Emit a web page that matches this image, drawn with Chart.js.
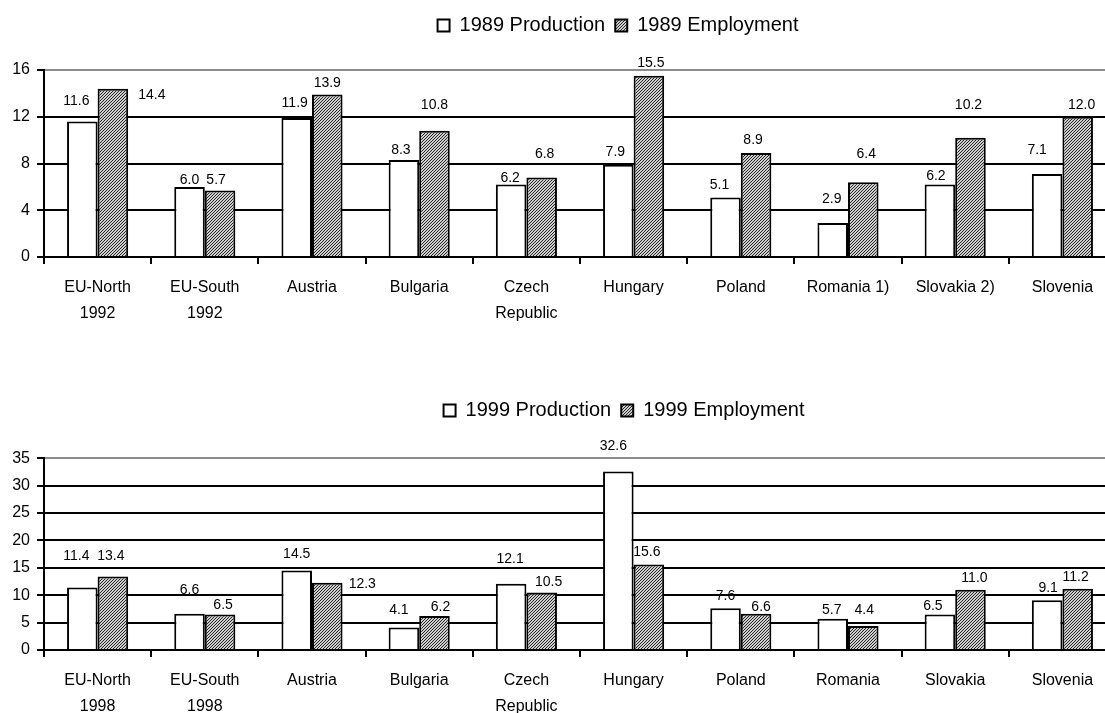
<!DOCTYPE html>
<html>
<head>
<meta charset="utf-8">
<script src="https://cdn.jsdelivr.net/npm/chart.js@4.4.1/dist/chart.umd.min.js"></script>
<style>
  html, body { margin: 0; padding: 0; background: #fff; width: 1105px; height: 713px; overflow: hidden; }
  .panel { position: absolute; left: 0; }
  #panel1989 { top: 0; }
  #panel1999 { top: 360px; }
  canvas { display: block; }
</style>
</head>
<body>
<div class="panel" id="panel1989"><canvas id="chart1989" width="1116" height="337"></canvas></div>
<div class="panel" id="panel1999"><canvas id="chart1999" width="1116" height="370"></canvas></div>
<script>
// ---- data: 1989 ----
const categories1989 = [['EU-North', '1992'], ['EU-South', '1992'], 'Austria', 'Bulgaria', ['Czech', 'Republic'],
  'Hungary', 'Poland', 'Romania 1)', 'Slovakia 2)', 'Slovenia'];
const production1989 = [11.6, 6.0, 11.9, 8.3, 6.2, 7.9, 5.1, 2.9, 6.2, 7.1];
const employment1989 = [14.4, 5.7, 13.9, 10.8, 6.8, 15.5, 8.9, 6.4, 10.2, 12.0];
const yTicks1989 = [0, 4, 8, 12, 16];
const series1989 = ['1989 Production', '1989 Employment'];

// ---- data: 1999 ----
const categories1999 = [['EU-North', '1998'], ['EU-South', '1998'], 'Austria', 'Bulgaria', ['Czech', 'Republic'],
  'Hungary', 'Poland', 'Romania', 'Slovakia', 'Slovenia'];
const production1999 = [11.4, 6.6, 14.5, 4.1, 12.1, 32.6, 7.6, 5.7, 6.5, 9.1];
const employment1999 = [13.4, 6.5, 12.3, 6.2, 10.5, 15.6, 6.6, 4.4, 11.0, 11.2];
const yTicks1999 = [0, 5, 10, 15, 20, 25, 30, 35];
const series1999 = ['1999 Production', '1999 Employment'];

// value-label placement: [dx, px above the bar top]
const prodLabelPos1989 = [[-6, 20], [0, 7], [-2, 15], [-3, 10], [-1, 6], [-3, 13], [-6, 12], [-1, 24], [-4, 8], [-10, 24]];
const empLabelPos1989  = [[39, -6], [-4, 10], [0, 11], [0, 26], [3, 23], [2, 13], [-3, 13], [3, 28], [-2, 33], [4, 12]];
const prodLabelPos1999 = [[-6, 31], [0, 24], [0, 16], [-5, 17], [-1, 25], [-5, 25], [0, 12], [-1, 9], [-7, 8], [1, 12]];
const empLabelPos1999  = [[-2, 20], [3, 9], [35, -2], [6, 9], [7, 10], [-2, 12], [5, 7], [1, 16], [4, 12], [-2, 12]];

// pick the condensed face when the system has it
const hasNarrow = (() => {
  const g = document.createElement('canvas').getContext('2d');
  g.font = '20px monospace';
  const a = g.measureText('EU-North 1992').width;
  g.font = '20px "Liberation Sans Narrow", monospace';
  return g.measureText('EU-North 1992').width !== a;
})();
const axisFamily = hasNarrow ? '"Liberation Sans Narrow", "Liberation Sans", Arial, sans-serif' : '"Liberation Sans", Arial, sans-serif';
const axisSize = hasNarrow ? 20 : 16;
const categoryFont = { family: axisFamily, size: axisSize, lineHeight: 26 / axisSize };
const valueAxisFont = { family: axisFamily, size: axisSize, lineHeight: 1.2 };
const valueFont = hasNarrow ? '17px "Liberation Sans Narrow", "Liberation Sans", sans-serif' : '14px "Liberation Sans", sans-serif';

// fine diagonal hatch fill for the employment bars
function hatchPattern() {
  const c = document.createElement('canvas');
  c.width = 3; c.height = 3;
  const g = c.getContext('2d');
  const img = g.createImageData(3, 3);
  for (let y = 0; y < 3; y++) {
    for (let x = 0; x < 3; x++) {
      const v = (x + y) % 3 === 2 ? 40 : 205;
      const k = (y * 3 + x) * 4;
      img.data[k] = img.data[k + 1] = img.data[k + 2] = v;
      img.data[k + 3] = 255;
    }
  }
  g.putImageData(img, 0, 0);
  return g.createPattern(c, 'repeat');
}
const hatch = hatchPattern();

// legend height / horizontal placement
const legendPlace = {
  id: 'legendPlace',
  afterInit(chart, _a, o) {
    const lg = chart.legend;
    const fit = lg.fit;
    lg.fit = function () { fit.call(this); this.height = o.height; };
  },
  afterLayout(chart, _a, o) {
    const lg = chart.legend;
    lg.left += o.shift;
    lg.right += o.shift;
  }
};

// value labels above the bars
const valueLabels = {
  id: 'valueLabels',
  afterDatasetsDraw(chart, _a, o) {
    const ctx = chart.ctx;
    ctx.save();
    ctx.font = valueFont;
    ctx.fillStyle = '#000';
    ctx.textAlign = 'center';
    ctx.textBaseline = 'middle';
    chart.data.datasets.forEach((ds, i) => {
      const pos = o.positions[i];
      chart.getDatasetMeta(i).data.forEach((bar, j) => {
        const [dx, up] = pos[j];
        ctx.fillText(ds.data[j].toFixed(1), bar.x + dx, bar.y - up);
      });
    });
    ctx.restore();
  }
};

function buildChart(id, cfg) {
  const yMin = cfg.ticks[0];
  const yMax = cfg.ticks[cfg.ticks.length - 1];
  return new Chart(document.getElementById(id), {
    type: 'bar',
    data: {
      labels: cfg.categories,
      datasets: [
        {
          label: cfg.names[0], data: cfg.production,
          backgroundColor: '#ffffff', borderColor: '#000', borderWidth: 2, borderSkipped: 'bottom',
          categoryPercentage: 0.57, barPercentage: 1
        },
        {
          label: cfg.names[1], data: cfg.employment,
          backgroundColor: hatch, borderColor: '#000', borderWidth: 2, borderSkipped: 'bottom',
          categoryPercentage: 0.57, barPercentage: 1
        }
      ]
    },
    options: {
      responsive: false,
      animation: false,
      layout: { padding: { top: cfg.padTop, left: 0, right: 0, bottom: 0 } },
      plugins: {
        tooltip: { enabled: false },
        legend: {
          position: 'top',
          align: 'center',
          labels: {
            color: '#000',
            font: { family: '"Liberation Sans", Arial, sans-serif', size: 20 },
            boxWidth: 12, boxHeight: 12, padding: 10
          }
        },
        legendPlace: { height: cfg.legendHeight, shift: cfg.legendShift },
        valueLabels: { positions: cfg.labelPos }
      },
      scales: {
        x: {
          z: 1,
          grid: { display: true, drawOnChartArea: false, drawTicks: true, tickLength: 7, color: '#000', lineWidth: 2, offset: true },
          border: { display: true, color: '#000', width: 2 },
          ticks: { color: '#000', font: categoryFont, padding: 11, maxRotation: 0, minRotation: 0, autoSkip: false },
          afterFit(s) { s.height = 80; }
        },
        y: {
          min: yMin, max: yMax,
          ticks: { stepSize: cfg.ticks[1] - cfg.ticks[0], color: '#000', font: valueAxisFont, padding: 7, autoSkip: false },
          grid: {
            color: c => (c.tick && c.tick.value === yMax ? '#8c8c8c' : '#000'),
            tickColor: '#000', lineWidth: 2, tickLength: 7, drawTicks: true
          },
          border: { display: true, color: '#000', width: 2 },
          afterFit(s) { s.width = 44; }
        }
      }
    },
    plugins: [legendPlace, valueLabels]
  });
}

buildChart('chart1989', {
  categories: categories1989, production: production1989, employment: employment1989,
  ticks: yTicks1989, names: series1989,
  labelPos: [prodLabelPos1989, empLabelPos1989],
  padTop: 5.5, legendHeight: 64.5, legendShift: 60
});

buildChart('chart1999', {
  categories: categories1999, production: production1999, employment: employment1999,
  ticks: yTicks1999, names: series1999,
  labelPos: [prodLabelPos1999, empLabelPos1999],
  padTop: 30.5, legendHeight: 67.8, legendShift: 66
});
</script>
</body>
</html>
